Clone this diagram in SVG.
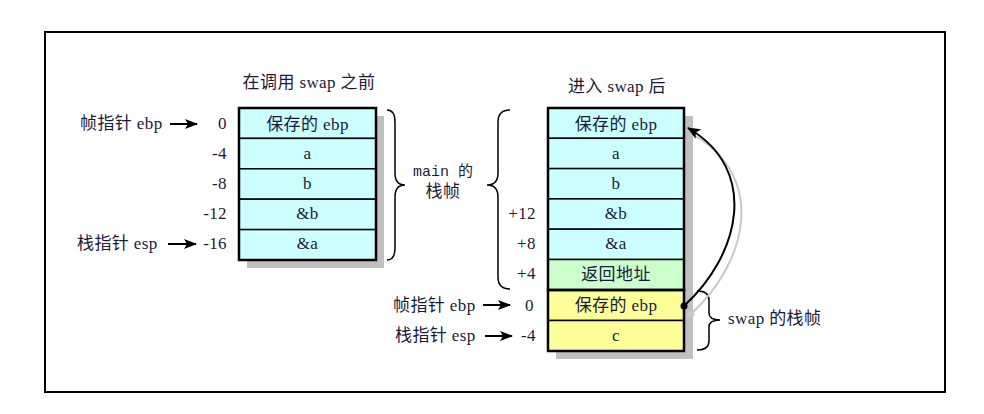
<svg xmlns="http://www.w3.org/2000/svg" width="984" height="414" viewBox="0 0 984 414">
<defs>
<marker id="ah" markerWidth="13" markerHeight="10" refX="12" refY="5" orient="auto" markerUnits="userSpaceOnUse">
<path d="M0,0 L13,5 L0,10 L3,5 Z" fill="#000"/>
</marker>
<marker id="ah2" markerWidth="13" markerHeight="11" refX="12" refY="5.5" orient="auto" markerUnits="userSpaceOnUse">
<path d="M0,0 L13,5.5 L0,11 L3,5.5 Z" fill="#000"/>
</marker>
</defs>
<style>
.t{font-family:"Liberation Serif","Noto Sans CJK SC",serif;font-size:17px;letter-spacing:0.4px;fill:#1a1a3a}
.m{font-family:"Liberation Mono","Noto Sans CJK SC",monospace;font-size:15px;fill:#1a1a3a}
.c{text-anchor:middle}
.r{text-anchor:end}
.cell{stroke:#000;stroke-width:1.5}
.cy{fill:#ccffff}
.gr{fill:#ccffcc}
.ye{fill:#ffff99}
.sh{fill:#c0c0c0}
.box{fill:none;stroke:#000;stroke-width:2.5}
.br{fill:none;stroke:#000;stroke-width:1.5}
.ar{stroke:#000;stroke-width:2;fill:none}
</style>
<rect x="0" y="0" width="984" height="414" fill="#fff"/>
<rect x="45" y="32" width="900" height="360" fill="none" stroke="#000" stroke-width="2"/>

<text class="t c" x="309" y="88">在调用 swap 之前</text>
<text class="t c" x="617" y="92">进入 swap 后</text>

<g id="left-stack">
<rect class="sh" x="247" y="116" width="137" height="152"/>
<g id="l-ebp"><rect class="cell cy" x="239" y="108" width="137" height="30.4"/><text class="t c" x="307.5" y="130">保存的 ebp</text></g>
<g id="l-a"><rect class="cell cy" x="239" y="138.4" width="137" height="30.4"/><text class="t c" x="307.5" y="159">a</text></g>
<g id="l-b"><rect class="cell cy" x="239" y="168.8" width="137" height="30.4"/><text class="t c" x="307.5" y="189">b</text></g>
<g id="l-pb"><rect class="cell cy" x="239" y="199.2" width="137" height="30.4"/><text class="t c" x="307.5" y="219">&amp;b</text></g>
<g id="l-pa"><rect class="cell cy" x="239" y="229.6" width="137" height="30.4"/><text class="t c" x="307.5" y="249">&amp;a</text></g>
<rect class="box" x="239" y="108" width="137" height="152"/>
</g>

<g id="right-stack">
<rect class="sh" x="556" y="116" width="137" height="243"/>
<g id="r-ebp"><rect class="cell cy" x="548" y="108" width="136" height="30.3"/><text class="t c" x="616" y="130">保存的 ebp</text></g>
<g id="r-a"><rect class="cell cy" x="548" y="138.3" width="136" height="30.3"/><text class="t c" x="616" y="159">a</text></g>
<g id="r-b"><rect class="cell cy" x="548" y="168.6" width="136" height="30.3"/><text class="t c" x="616" y="189">b</text></g>
<g id="r-pb"><rect class="cell cy" x="548" y="198.9" width="136" height="30.3"/><text class="t c" x="616" y="219">&amp;b</text></g>
<g id="r-pa"><rect class="cell cy" x="548" y="229.2" width="136" height="30.3"/><text class="t c" x="616" y="249">&amp;a</text></g>
<g id="r-ret"><rect class="cell gr" x="548" y="259.5" width="136" height="30.5"/><text class="t c" x="616" y="280">返回地址</text></g>
<g id="r-sebp"><rect class="cell ye" x="548" y="290" width="136" height="30.5"/><text class="t c" x="616" y="311">保存的 ebp</text></g>
<g id="r-c"><rect class="cell ye" x="548" y="320.5" width="136" height="30.5"/><text class="t c" x="616" y="341">c</text></g>
<rect class="box" x="548" y="108" width="136" height="182"/>
<rect class="box" x="548" y="290" width="136" height="61"/>
</g>

<g id="left-labels">
<text class="t" x="80" y="129">帧指针 ebp</text>
<text class="t" x="77" y="249">栈指针 esp</text>
<text class="t r" x="227" y="129">0</text>
<text class="t r" x="227" y="159">-4</text>
<text class="t r" x="227" y="189">-8</text>
<text class="t r" x="227" y="219">-12</text>
<text class="t r" x="227" y="249">-16</text>
</g>

<g id="right-labels">
<text class="t" x="393" y="311">帧指针 ebp</text>
<text class="t" x="395" y="341">栈指针 esp</text>
<text class="t r" x="536" y="219">+12</text>
<text class="t r" x="536" y="249">+8</text>
<text class="t r" x="536" y="279">+4</text>
<text class="t r" x="534" y="311">0</text>
<text class="t r" x="536" y="341">-4</text>
</g>

<g id="main-frame-label">
<path class="br" d="M387,110 Q395,110 395,122 L395,173 Q395,185 405,185 Q395,185 395,197 L395,248 Q395,260 387,260"/>
<path class="br" d="M510,110 Q498,110 498,122 L498,173 Q498,185 487,185 Q498,185 498,197 L498,277 Q498,289 510,289"/>
<text class="m c" x="443" y="176">main 的</text>
<text class="t c" x="443" y="197">栈帧</text>
</g>

<g id="swap-frame-label">
<path class="br" d="M697,291 Q709,291 709,300 L709,313 Q709,320 720,320 Q709,320 709,327 L709,341 Q709,350 697,350"/>
<text class="t" x="728" y="324">swap 的栈帧</text>
</g>

<g id="connectors">
<line class="ar" x1="170" y1="124" x2="197" y2="124" marker-end="url(#ah)"/>
<line class="ar" x1="168" y1="244" x2="196" y2="244" marker-end="url(#ah)"/>
<line class="ar" x1="483" y1="305" x2="510" y2="305" marker-end="url(#ah)"/>
<line class="ar" x1="485" y1="336" x2="512" y2="336" marker-end="url(#ah)"/>
<path d="M691,314 C747,263 767,178 695,136" fill="none" stroke="#c8c8c8" stroke-width="2"/>
<circle cx="691" cy="314" r="3.5" fill="#c8c8c8"/>
<path d="M684,306 C740,255 760,170 688,128" fill="none" stroke="#000" stroke-width="2" marker-end="url(#ah2)"/>
<circle cx="684" cy="306" r="3.5" fill="#000"/>
</g>
</svg>
